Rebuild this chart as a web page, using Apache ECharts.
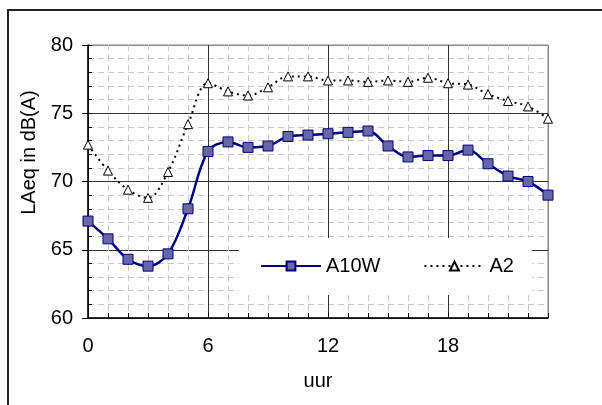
<!DOCTYPE html>
<html>
<head>
<meta charset="utf-8">
<script src="https://cdn.jsdelivr.net/npm/echarts@6/dist/echarts.min.js"></script>
<style>
html,body{margin:0;padding:0;background:#fff;}
#c{width:602px;height:405px;}
</style>
</head>
<body>
<div id="c"></div>
<script>
var hours = [0,1,2,3,4,5,6,7,8,9,10,11,12,13,14,15,16,17,18,19,20,21,22,23];
var a10w = [67.1,65.8,64.3,63.8,64.7,68.0,72.2,72.9,72.5,72.6,73.3,73.4,73.5,73.6,73.7,72.6,71.8,71.9,71.9,72.3,71.3,70.4,70.0,69.0];
var a2 = [72.7,70.8,69.4,68.8,70.7,74.2,77.2,76.6,76.3,76.9,77.7,77.7,77.4,77.4,77.3,77.4,77.3,77.6,77.2,77.1,76.4,75.9,75.5,74.6];
var seriesNames = ['A10W','A2'];
var xName = 'uur';
var yName = 'LAeq in dB(A)';

function pairs(vals){ return hours.map(function(h,i){ return [h, vals[i]]; }); }

var font = "'Liberation Sans', Arial, sans-serif";
var chart = echarts.init(document.getElementById('c'), null, {renderer:'canvas'});
chart.setOption({
  animation: false,
  backgroundColor: '#fff',
  textStyle: {fontFamily: font},
  graphic: [{
    type: 'rect', z: 100, silent: true,
    shape: {x: 8, y: 10, width: 700, height: 500},
    style: {fill: 'none', stroke: '#222', lineWidth: 2}
  }],
  grid: {left: 88, top: 45, width: 460, height: 273, show: true, borderColor: '#888', borderWidth: 1, backgroundColor: '#fff'},
  legend: {
    left: 239, top: 238, orient: 'horizontal',
    backgroundColor: '#fff', padding: [18,18,19,21],
    itemWidth: 60, itemHeight: 11, itemGap: 43,
    textStyle: {fontSize: 20, color: '#000', fontFamily: font},
    data: seriesNames
  },
  xAxis: [{
    type: 'value', min: 0, max: 23, interval: 6,
    name: xName, nameLocation: 'middle', nameGap: 53,
    nameTextStyle: {fontSize: 20, color: '#000', fontFamily: font},
    axisLine: {lineStyle: {color: '#000', width: 1.5}},
    axisTick: {inside: true, length: 5, lineStyle: {color: '#000'}},
    minorTick: {show: true, splitNumber: 6, length: 5, lineStyle: {color: '#000'}},
    axisLabel: {fontSize: 20, color: '#000', margin: 18, showMaxLabel: false, fontFamily: font},
    splitLine: {show: true, lineStyle: {color: ['#333','#333','#333','#333','#888'], width: 1}},
    minorSplitLine: {show: true, lineStyle: {color: '#c8c8c8', type: [6,4], width: 1}}
  }],
  yAxis: [{
    type: 'value', min: 60, max: 80, interval: 5,
    name: yName, nameLocation: 'middle', nameGap: 49,
    nameTextStyle: {fontSize: 20, color: '#000', fontFamily: font, padding: [0,0,0,58]},
    axisLine: {show: true, lineStyle: {color: '#000', width: 1.5}},
    axisTick: {show: true, inside: false, length: 6, lineStyle: {color: '#000'}},
    minorTick: {show: false, splitNumber: 5},
    axisLabel: {fontSize: 20, color: '#000', margin: 15, fontFamily: font},
    splitLine: {show: true, lineStyle: {color: ['#333','#333','#333','#333','#888'], width: 1}},
    minorSplitLine: {show: true, lineStyle: {color: '#c8c8c8', type: [6,4], width: 1}}
  },{
    type: 'value', min: 60, max: 80, interval: 1, position: 'left',
    axisLine: {show: false},
    axisTick: {show: true, inside: true, length: 4, lineStyle: {color: '#000'}},
    axisLabel: {show: false},
    splitLine: {show: false}
  }],
  series: [{
    name: seriesNames[0], type: 'line', data: pairs(a10w), smooth: 0.35,
    symbol: 'rect', symbolSize: 10,
    lineStyle: {color: '#000080', width: 2.5},
    itemStyle: {color: '#6666a8', borderColor: '#000080', borderWidth: 1},
    z: 3
  },{
    name: seriesNames[1], type: 'line', data: pairs(a2), smooth: 0.35,
    symbol: 'triangle', symbolSize: 9,
    lineStyle: {color: '#000', width: 2, type: [2,4]},
    itemStyle: {color: '#fff', borderColor: '#000', borderWidth: 1},
    z: 3
  }]
});
</script>
</body>
</html>
